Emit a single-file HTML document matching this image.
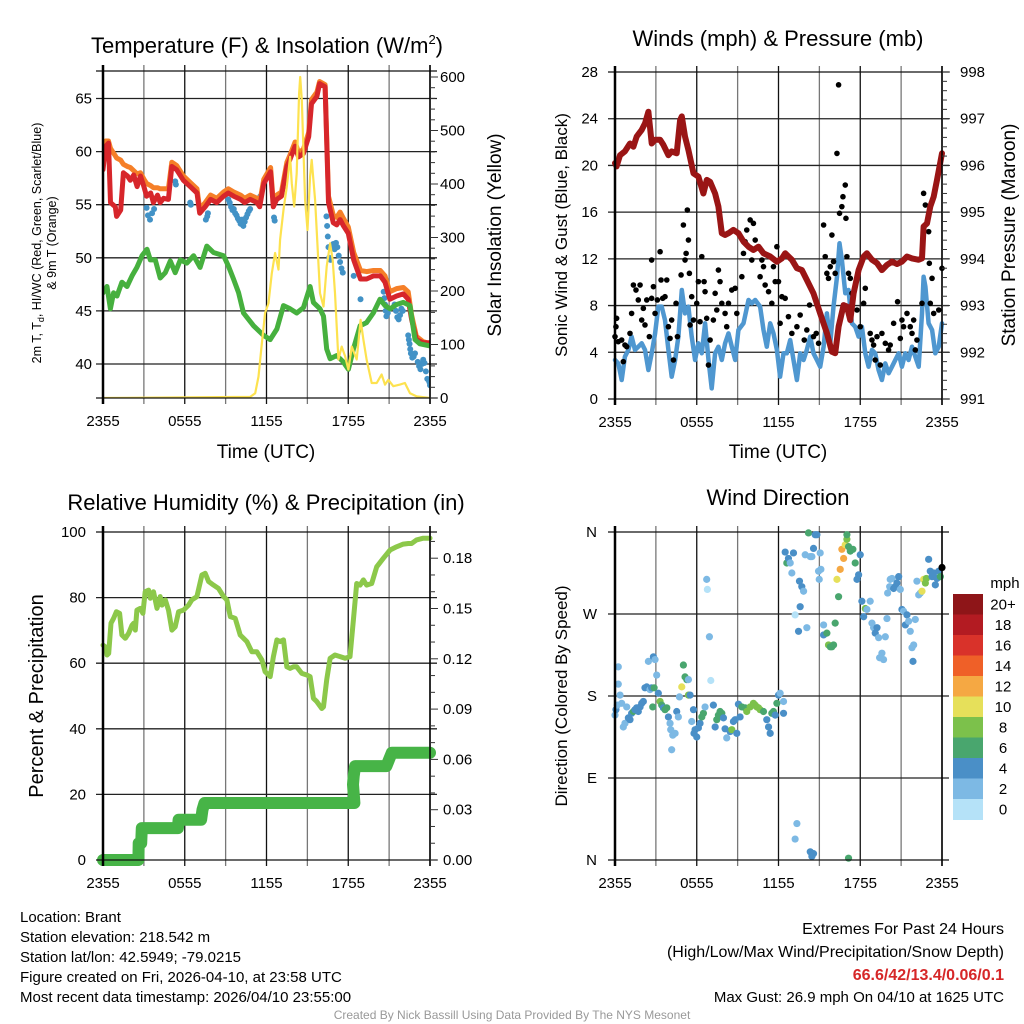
<!DOCTYPE html>
<html><head><meta charset="utf-8"><style>
html,body{margin:0;padding:0;background:#fff}
svg{display:block;font-family:"Liberation Sans",Arial,sans-serif}
</style></head><body>
<svg id="c" xmlns="http://www.w3.org/2000/svg" width="1024" height="1024" viewBox="0 0 1024 1024">
<rect width="1024" height="1024" fill="#fff"/>
<g id="layer-grid"></g>
<g id="layer-data"></g>
<g id="layer-axes"></g>
<text x="267" y="53" font-size="22" text-anchor="middle">Temperature (F) &amp; Insolation (W/m<tspan font-size="13" dy="-9">2</tspan><tspan dy="9">)</tspan></text>
<text x="778" y="46" font-size="22" text-anchor="middle">Winds (mph) &amp; Pressure (mb)</text>
<text x="266" y="510" font-size="22" text-anchor="middle">Relative Humidity (%) &amp; Precipitation (in)</text>
<text x="778" y="505" font-size="22" text-anchor="middle">Wind Direction</text>
<text x="266" y="458" font-size="19" text-anchor="middle">Time (UTC)</text>
<text x="778" y="458" font-size="19" text-anchor="middle">Time (UTC)</text>
<text transform="translate(41,243) rotate(-90)" font-size="12.5" text-anchor="middle">2m T, T<tspan font-size="9" dy="3">d</tspan><tspan dy="-3">, HI/WC (Red, Green, Scarlet/Blue)</tspan></text>
<text transform="translate(56,243) rotate(-90)" font-size="12.5" text-anchor="middle">&amp; 9m T (Orange)</text>
<text transform="translate(501,235) rotate(-90)" font-size="19" text-anchor="middle">Solar Insolation (Yellow)</text>
<text transform="translate(567,235) rotate(-90)" font-size="17" text-anchor="middle">Sonic Wind &amp; Gust (Blue, Black)</text>
<text transform="translate(1015,235) rotate(-90)" font-size="19" text-anchor="middle">Station Pressure (Maroon)</text>
<text transform="translate(43,696) rotate(-90)" font-size="20" text-anchor="middle">Percent &amp; Precipitation</text>
<text transform="translate(567,696) rotate(-90)" font-size="17" text-anchor="middle">Direction (Colored By Speed)</text>
<text x="20" y="922" font-size="15">Location: Brant</text>
<text x="20" y="942" font-size="15">Station elevation: 218.542 m</text>
<text x="20" y="962" font-size="15">Station lat/lon: 42.5949; -79.0215</text>
<text x="20" y="982" font-size="15">Figure created on Fri, 2026-04-10, at 23:58 UTC</text>
<text x="20" y="1002" font-size="15">Most recent data timestamp: 2026/04/10 23:55:00</text>
<text x="1004" y="934" font-size="16" text-anchor="end">Extremes For Past 24 Hours</text>
<text x="1004" y="957" font-size="16" text-anchor="end">(High/Low/Max Wind/Precipitation/Snow Depth)</text>
<text x="1004" y="980" font-size="16" font-weight="bold" fill="#d62728" text-anchor="end">66.6/42/13.4/0.06/0.1</text>
<text x="1004" y="1002" font-size="15" text-anchor="end">Max Gust: 26.9 mph On 04/10 at 1625 UTC</text>
<text x="512" y="1019" font-size="12" fill="#999" text-anchor="middle">Created By Nick Bassill Using Data Provided By The NYS Mesonet</text>
</svg>
<script>
// ---------- Panel 1: temperature ----------
const tempT=[0,0.2,0.4,0.55,0.9,1.0,1.3,1.5,1.8,2.0,2.25,2.5,2.75,3.0,3.2,3.5,3.7,4.0,4.2,4.45,4.8,5.05,5.4,5.9,6.4,6.9,7.1,7.5,7.9,8.35,8.85,9.2,9.6,10.1,10.4,10.8,11.3,11.5,11.8,12.3,12.5,12.75,13.1,13.5,13.7,14.1,14.35,14.7,15.1,15.3,15.7,15.9,16.3,16.55,16.9,17.15,17.4,17.65,18.0,18.4,18.9,19.35,19.85,20.35,20.7,21.05,21.55,22.05,22.4,22.65,23.0,23.5,24];
const tempV=[58.3,60.5,60.8,55.2,54.8,53.9,54.5,58.0,57.7,57.3,57.8,56.7,57.7,56.7,55.8,56.1,55.2,55.9,55.2,55.6,55.5,58.6,58.3,57.3,56.7,56.1,54.2,54.8,55.5,55.2,55.8,56.1,55.8,55.5,55.2,55.5,55.2,54.8,57.0,58.1,54.8,55.5,55.8,58.6,59.2,60.5,59.5,59.8,61.4,64.5,65.2,66.4,66.1,55.2,53.3,53.1,53.6,53.0,52.3,49.8,48.0,48.0,48.3,48.3,47.7,46.1,46.4,46.6,46.1,44.2,42.3,42.0,42.0];
const t9T=tempT;
const t9V=[60.3,61.0,61.0,60.3,59.6,59.4,59.2,58.8,58.6,58.5,58.2,57.9,58.0,57.4,57.0,56.8,56.6,56.6,56.5,56.5,56.5,59.0,58.7,57.7,57.1,56.5,54.6,55.2,55.9,55.6,56.2,56.5,56.2,55.9,55.6,55.9,55.6,55.2,57.4,58.5,55.2,55.9,56.2,59.0,59.6,60.9,59.9,60.2,61.8,64.9,65.6,66.6,66.3,55.8,54.0,53.8,54.3,53.7,52.9,50.5,48.8,48.7,48.8,48.8,48.3,46.8,47.1,47.2,46.8,44.6,42.6,42.1,41.9];
const hiT=[3.2,3.3,3.45,3.6,3.75,5.3,5.35,6.4,6.45,7.55,7.65,7.7,9.2,9.3,9.4,9.5,9.6,9.7,9.8,9.9,10.0,10.1,10.2,10.3,10.4,10.5,10.6,10.7,10.8,11.5,11.55,12.55,12.6,16.4,16.45,16.5,16.55,16.6,16.7,16.8,16.9,17.0,17.1,17.2,17.3,17.4,17.5,17.6,18.4,18.9,20.6,20.65,20.7,20.75,20.8,20.9,21.0,21.4,21.5,21.6,21.7,21.8,21.9,22.0,22.4,22.45,22.5,22.55,22.6,22.7,22.8,22.9,23.1,23.2,23.3,23.4,23.5,23.6,23.7,23.8,23.9,23.95,24];
const hiV=[54.7,54.0,53.6,54.2,54.6,57.2,56.9,55.2,55.0,53.6,53.9,54.2,55.5,55.2,54.8,54.5,54.6,54.2,54.0,53.7,53.5,53.2,53.6,53.0,53.4,53.8,54.1,54.4,54.6,55.4,55.8,53.8,53.5,53.9,53.0,52.0,51.0,50.0,49.8,51.0,51.3,50.8,51.4,51.0,50.2,49.6,49.0,48.6,48.3,46.1,46.8,46.2,45.6,45.0,44.5,44.8,45.2,45.6,45.0,44.4,44.2,44.6,45.2,45.0,42.7,42.3,41.9,41.4,41.0,40.6,40.7,41.0,40.2,39.8,39.5,40.0,40.4,40.1,39.3,38.6,38.5,38.3,38.0];
const dewT=[0,0.29,0.54,0.78,1.03,1.39,1.76,2.13,2.49,2.86,3.23,3.47,3.84,4.2,4.57,4.94,5.3,5.67,6.16,6.65,7.13,7.62,8.11,8.85,9.21,9.58,9.95,10.31,11.05,11.78,12.27,12.76,13.25,13.73,14.22,14.71,15.2,15.44,15.93,16.18,16.42,16.67,17.16,17.64,18.01,18.38,18.87,19.35,19.84,20.33,20.7,21.07,21.55,22.04,22.53,22.9,23.26,24];
const dewV=[46.7,47.3,45.2,46.7,46.4,47.7,47.3,48.3,49.1,50.2,50.8,49.8,49.8,48.1,48.6,49.7,48.6,49.8,49.5,50.2,49.1,51.1,50.5,50.2,49.2,48.0,46.7,44.8,43.6,42.7,42.3,43.3,45.5,45.2,44.8,45.3,47.3,45.8,45.2,44.5,41.4,40.5,40.8,40.2,39.5,41.4,43.6,43.9,44.8,46.1,45.5,45.2,45.6,45.8,45.5,42.3,41.9,41.7];
const solT=[0,10.80,11.17,11.41,11.66,11.90,12.15,12.39,12.63,12.88,13.0,13.25,13.49,13.73,13.86,14.03,14.22,14.39,14.47,14.59,14.83,15.01,15.2,15.32,15.57,15.93,16.18,16.42,16.67,16.86,17.03,17.28,17.52,17.77,18.01,18.26,18.62,18.91,19.11,19.35,19.72,20.09,20.45,20.70,20.94,21.31,21.8,22.16,22.53,23.02,24];
const solV=[0,2,9,40,103,159,177,233,271,240,296,352,395,451,401,358,420,569,600,557,370,314,414,445,370,196,171,246,289,258,196,72,96,78,53,96,72,146,109,72,28,28,44,25,34,22,25,28,9,3,0];
const tempTicks=[40,45,50,55,60,65];
const solTicks=[0,100,200,300,400,500,600];
const timeLabels=['2355','0555','1155','1755','2355'];
// ---------- Panel 2: winds ----------
const presT=[0,.12,.37,.73,1.10,1.35,1.59,1.96,2.20,2.45,2.69,2.94,3.31,3.55,3.92,4.16,4.53,4.78,4.90,5.14,5.39,5.76,6.12,6.49,6.74,6.98,7.35,7.59,7.84,8.08,8.33,8.69,9.06,9.43,9.80,10.16,10.53,10.90,11.39,11.88,12.25,12.49,12.98,13.35,13.72,14.08,14.57,15.06,15.55,15.92,16.16,16.41,16.78,17.02,17.27,17.51,17.88,18.25,18.49,18.86,19.23,19.59,19.96,20.33,20.70,21.06,21.43,21.80,22.29,22.53,22.65,22.90,23.14,23.39,23.63,24];
const presV=[996.05,995.98,996.22,996.30,996.47,996.40,996.62,996.76,996.90,997.15,996.47,996.55,996.55,996.44,996.22,996.30,996.26,996.97,997.05,996.62,996.33,995.83,995.76,995.40,995.69,995.65,995.40,995.12,994.55,994.51,994.55,994.62,994.55,994.37,994.26,994.19,994.26,994.12,994.05,993.94,994.01,994.12,993.98,993.80,993.76,993.55,993.26,992.83,992.41,992.01,991.98,992.55,993.01,992.98,992.69,993.26,993.76,994.05,994.12,993.98,993.91,993.76,993.87,993.94,993.89,993.94,994.05,994.01,993.98,994.01,994.69,994.76,995.12,995.33,995.69,996.26];
const windT=[0,.24,.49,.73,.98,1.22,1.47,1.71,1.96,2.20,2.45,2.69,2.94,3.18,3.43,3.67,3.92,4.16,4.41,4.65,4.90,5.14,5.39,5.63,5.88,6.12,6.37,6.61,6.86,7.10,7.35,7.59,7.84,8.08,8.33,8.57,8.82,9.06,9.43,9.80,10.04,10.29,10.65,10.90,11.14,11.39,11.63,11.88,12.12,12.37,12.61,12.86,13.10,13.35,13.59,13.84,14.08,14.33,14.57,14.82,15.06,15.31,15.55,15.80,16.04,16.29,16.48,16.65,16.90,17.14,17.39,17.63,17.88,18.12,18.37,18.61,18.86,19.10,19.35,19.59,19.84,20.08,20.33,20.57,20.82,21.06,21.31,21.55,21.80,22.04,22.29,22.53,22.65,22.78,23.02,23.27,23.51,23.76,24];
const windV=[3.34,3.05,1.63,3.62,4.2,5.34,4.2,4.48,4.77,4.2,2.48,3.91,5.62,7.91,7.91,6.76,4.2,1.91,3.34,5.34,9.33,7.33,7.91,5.34,3.34,4.77,3.91,6.48,3.34,0.91,3.91,4.48,3.34,4.77,5.62,4.48,3.34,5.91,6.48,8.48,8.19,8.48,7.91,5.91,4.48,6.48,5.62,4.2,1.91,3.91,3.91,5.05,3.34,1.63,3.91,3.34,4.2,5.34,3.91,3.34,2.77,4.48,7.33,4.77,7.91,10.47,13.33,11.9,9.05,9.33,6.48,6.19,5.34,6.19,3.91,2.77,4.2,3.91,2.48,1.63,3.05,2.2,2.77,3.34,3.91,2.77,3.91,3.34,4.48,3.62,2.77,7.33,10.47,9.62,6.48,5.91,3.91,4.48,6.48];
const gustT=[0,.07,.12,.24,.49,.61,.73,.86,1.10,1.22,1.35,1.54,1.71,1.84,1.96,2.08,2.20,2.33,2.52,2.69,2.69,2.82,2.94,3.11,3.31,3.38,3.50,3.67,3.80,3.92,4.04,4.16,4.29,4.48,4.58,4.85,5.02,5.14,5.22,5.31,5.39,5.46,5.51,5.63,5.76,6.00,6.12,6.24,6.37,6.54,6.61,6.73,6.86,6.98,7.22,7.35,7.47,7.59,7.71,7.84,8.08,8.20,8.33,8.57,8.82,8.94,9.31,9.43,9.55,9.67,9.92,10.04,10.16,10.29,10.53,10.65,10.78,10.90,11.02,11.27,11.51,11.63,11.76,11.88,12.00,12.12,12.25,12.49,12.73,12.98,13.35,13.59,13.89,14.08,14.28,14.57,14.77,14.94,15.31,15.43,15.55,15.67,15.80,15.92,16.04,16.16,16.29,16.41,16.48,16.65,16.73,16.90,16.95,17.02,17.14,17.27,17.39,17.76,18.00,18.25,18.37,18.73,18.86,18.98,19.10,19.23,19.47,19.59,19.84,20.08,20.20,20.45,20.74,20.94,21.06,21.18,21.43,21.67,21.80,21.92,22.04,22.16,22.53,22.65,22.78,23.02,23.07,23.27,23.14,23.39,23.76,24.00];
const gustV=[5.34,6.19,6.91,4.91,5.05,3.20,4.62,4.48,5.62,7.33,9.76,9.33,8.48,9.76,6.76,7.76,6.34,8.48,5.34,11.90,8.62,9.62,7.33,8.48,12.61,10.19,8.62,8.76,10.19,6.19,5.19,6.76,3.34,8.19,5.34,10.62,14.90,11.90,12.47,16.18,13.61,10.76,6.34,8.76,6.76,8.19,10.05,6.62,12.19,10.05,9.19,6.91,2.91,5.05,6.76,9.05,7.62,11.04,10.05,8.19,7.33,6.19,8.19,9.33,9.48,7.33,10.47,12.47,13.47,14.47,15.33,11.90,15.04,13.61,13.04,10.47,11.90,11.33,9.76,9.19,8.19,11.33,10.05,13.04,10.05,6.48,8.76,8.62,7.05,5.62,6.19,7.19,5.05,5.91,8.05,5.34,5.62,4.77,14.90,12.19,10.76,10.33,11.33,14.04,11.76,10.76,21.03,26.9,15.90,16.47,17.32,18.32,15.47,12.19,10.76,10.33,9.05,7.62,6.19,8.19,9.48,5.62,5.05,4.62,3.34,5.34,2.91,5.62,4.77,4.20,4.62,6.48,8.33,5.19,6.76,6.19,7.33,6.19,5.62,6.76,4.20,5.05,8.19,17.61,16.61,14.33,11.62,10.33,8.19,7.33,7.62,11.19];
const windTicks=[0,4,8,12,16,20,24,28];
const presTicks=[991,992,993,994,995,996,997,998];
// ---------- Panel 3: humidity ----------
const rhT=[0,.17,.29,.42,.59,.78,.98,1.22,1.39,1.64,1.88,2.13,2.25,2.37,2.49,2.74,2.93,3.10,3.35,3.47,3.71,3.96,4.20,4.33,4.57,4.81,5.06,5.30,5.55,5.91,6.28,6.52,6.89,7.26,7.50,7.75,8.11,8.48,8.85,9.09,9.34,9.70,10.07,10.56,10.92,11.29,11.66,11.90,12.27,12.51,12.76,13.00,13.25,13.49,13.73,13.98,14.22,14.59,14.96,15.20,15.44,15.69,16.06,16.18,16.42,16.67,17.03,17.40,17.77,18.13,18.38,18.62,18.87,19.11,19.35,19.72,20.09,20.58,21.07,21.55,22.04,22.41,22.65,23.02,23.51,24];
const rhV=[65.5,65.0,62.5,63.0,72.2,73.7,75.7,75.2,68.6,67.6,69.1,71.6,72.2,70.1,76.2,76.7,75.2,81.8,82.3,79.8,81.8,76.7,80.3,77.7,79.3,76.2,70.1,71.1,75.7,76.2,77.7,79.3,80.3,86.9,87.4,84.9,83.8,82.8,80.3,79.3,74.2,73.7,68.6,66.6,63.5,63.5,61.0,57.4,55.9,62.0,67.1,66.6,67.1,58.9,58.4,58.9,58.9,56.9,56.4,55.9,49.3,48.3,46.2,46.7,54.9,61.5,62.5,62.0,61.5,62.0,73.2,84.3,83.8,85.4,83.8,84.3,89.4,92.0,94.5,95.5,96.3,96.5,96.5,97.6,98.1,98.1];
const prT=[0,2.6,2.62,2.8,2.85,5.5,5.55,7.2,7.3,7.45,18.45,18.35,18.4,18.5,20.8,21.0,21.2,24];
const prV=[0,0,0.01,0.01,0.019,0.019,0.024,0.024,0.03,0.034,0.034,0.045,0.05,0.056,0.056,0.06,0.064,0.064];
const rhTicks=[0,20,40,60,80,100];
const prTicks=[0,0.03,0.06,0.09,0.12,0.15,0.18];
// ---------- Panel 4: wind direction ----------
const dirT=[0,.07,.17,.24,.24,.37,.49,.61,.73,.86,.98,1.10,1.22,1.35,1.47,1.59,1.71,1.84,1.96,2.08,2.20,2.33,2.45,2.57,2.69,2.82,2.94,2.77,2.87,3.06,3.18,3.31,3.43,3.55,3.67,3.80,3.92,4.04,4.09,4.16,4.24,4.41,4.53,4.65,4.73,4.90,5.02,5.14,5.27,5.39,5.39,5.51,5.63,5.76,5.80,5.88,6.00,6.12,6.24,6.37,6.49,6.61,6.73,6.78,6.93,7.03,7.22,7.35,7.47,7.59,7.71,7.84,7.96,8.08,8.20,8.45,8.57,8.69,8.82,8.94,9.06,9.18,9.31,9.55,9.67,9.92,10.16,10.29,10.41,10.53,10.65,10.90,11.14,11.27,11.39,11.51,11.63,11.76,11.88,12.00,12.12,12.37,12.37,
12.49,12.61,12.73,12.86,12.98,13.10,13.22,13.35,13.22,13.47,13.59,13.54,13.71,13.84,13.96,14.08,14.20,14.33,14.45,14.57,14.69,14.82,14.94,14.99,15.06,15.11,14.33,14.45,14.57,15.31,15.31,15.55,15.67,15.80,15.92,16.04,16.16,16.29,16.41,16.53,16.65,16.78,16.90,17.02,17.02,17.14,17.27,17.46,17.63,17.76,17.88,18.00,17.14,18.12,18.25,18.37,18.49,18.73,18.86,18.98,19.10,19.23,19.35,19.42,19.59,19.71,19.84,19.96,20.01,20.16,20.20,20.33,20.45,20.57,20.69,20.82,20.94,21.06,21.18,21.31,21.43,21.55,21.67,21.80,21.92,21.87,22.04,22.16,22.29,22.41,22.53,22.65,22.78,22.85,23.02,23.14,23.27,23.39,23.51,23.63,23.76,23.88,24.00];
const dirV=[159,165,170,212,193,181,172,146,150,168,156,154,161,163,165,167,163,168,172,174,189,190,218,187,189,223,220,168,189,203,183,174,170,167,165,167,157,150,143,121,137,139,163,157,179,190,214,201,198,198,181,181,152,165,139,143,135,145,150,157,161,168,308,297,245,197,170,146,154,159,163,161,156,144,134,141,143,152,154,139,171,157,168,167,163,168,172,170,168,167,165,163,154,146,139,161,163,159,172,181,183,174,161,
338,326,331,326,315,337,269,40,23,251,278,306,300,295,335,255,359,333,333,342,357,357,317,308,337,319,9,4,7,258,247,249,236,234,234,236,260,308,289,319,341,331,346,352,357,344,339,341,326,308,313,335,2,284,267,276,275,284,260,255,249,255,244,222,227,220,245,265,293,300,308,309,298,300,304,311,297,275,273,258,269,262,251,233,236,218,264,306,291,293,295,308,304,309,330,317,311,315,302,309,317,311,321];
const dirS=[3,5,3,3,3,3,3,3,3,3,5,5,5,7,5,5,5,5,5,5,5,5,3,3,5,5,3,7,7,3,5,9,7,5,7,7,5,3,3,3,3,3,5,3,3,11,7,7,7,3,9,5,3,5,5,5,5,5,5,7,7,3,3,1,3,1,5,5,7,7,7,7,5,5,3,5,9,5,5,5,5,5,7,7,9,9,9,9,9,9,9,7,5,5,5,7,7,5,7,5,3,3,5,
5,7,5,3,3,5,1,3,3,5,5,5,5,3,3,3,7,3,3,5,5,5,3,3,3,3,5,5,5,3,5,7,9,7,7,7,7,11,7,13,13,13,11,9,7,7,7,7,7,5,5,5,7,5,5,9,3,3,3,3,5,5,3,3,3,3,3,3,3,3,3,3,5,5,5,5,3,5,3,5,5,3,3,3,3,5,3,3,3,3,11,11,9,9,5,5,5,5,5,5,5,7];
const dirLabels=['N','E','S','W','N'];
const dirTicks=[0,90,180,270,360];
const speedBins=['0','2','4','6','8','10','12','14','16','18','20+'];
const speedColors=['#b5e2f8','#7db9e4','#4a8fc7','#49a66e','#7cc14b','#e6e05a','#f5a843','#ef6028','#d9322a','#b31b22','#8e1518'];

const NS='http://www.w3.org/2000/svg';
const gGrid=document.getElementById('layer-grid');
const gData=document.getElementById('layer-data');
const gAx=document.getElementById('layer-axes');
function mk(tag,attrs,parent){const e=document.createElementNS(NS,tag);for(const k in attrs)e.setAttribute(k,attrs[k]);parent.appendChild(e);return e;}
function txt(x,y,s,size,anchor,parent){const e=mk('text',{x:x,y:y,'font-size':size,'text-anchor':anchor},parent);e.textContent=s;return e;}

const P1={x0:103,x1:430,y0:71,y1:398}, P2={x0:615,x1:942,y0:72,y1:399}, P3={x0:103,x1:430,y0:532,y1:860}, P4={x0:615,x1:942,y0:532,y1:860};
const xs=(P,t)=>P.x0+t/24*(P.x1-P.x0);
const yTemp=v=>364-(v-40)*10.62;
const ySol=s=>398-s*0.535;
const yWind=w=>399-w*(327/28);
const yPres=p=>399-(p-991)*(327/7);
const yRH=r=>860-r*3.28;
const yPr=p=>860-p*(50.3/0.03);
const yDir=d=>860-d*(328/360);

function frame(P,name,hvals,yf){
  for(let i=0;i<=8;i++){const x=P.x0+i*(P.x1-P.x0)/8;
    const l=mk('line',{x1:x,x2:x,y1:P.y0-6,y2:P.y1+6,stroke:i%2?'#777':'#111','stroke-width':1.3},gGrid);
    
    }
  hvals.forEach(v=>{const y=yf(v);
    const l=mk('line',{x1:P.x0-7,x2:P.x1+7,y1:y,y2:y,stroke:'#222','stroke-width':1.3},gGrid);
    
    });
  const b=mk('line',{x1:P.x0-7,x2:P.x1+7,y1:P.y0,y2:P.y0,stroke:'#111','stroke-width':1.3},gGrid);
  
  
  const bb=mk('line',{x1:P.x0-7,x2:P.x1+7,y1:P.y1,y2:P.y1,stroke:'#111','stroke-width':1.3},gAx);
  
  
  const la=mk('line',{x1:P.x0,x2:P.x0,y1:P.y0-6,y2:P.y1+6,stroke:'#000','stroke-width':2.5},gAx);
  
  
  const ra=mk('line',{x1:P.x1,x2:P.x1,y1:P.y0-6,y2:P.y1+6,stroke:'#000','stroke-width':1.5},gAx);
  
  
}
function xlabels(P,name){timeLabels.forEach((s,i)=>{const e=txt(P.x0+i*(P.x1-P.x0)/4,P.y1+28,s,15,'middle',gAx);
  
  });}
function leftLabels(vals,yf,x,name,fmt){vals.forEach(v=>{const e=txt(x,yf(v)+5,fmt?fmt(v):String(v),15,'end',gAx);
  
  });}
function rightLabels(vals,yf,x,name,fmt){vals.forEach(v=>{const e=txt(x,yf(v)+5,fmt?fmt(v):String(v),15,'start',gAx);
  
  });}
function rightMinor(P,lo,hi,step,yf,major){for(let v=lo;v<=hi+1e-9;v+=step){const y=yf(v);if(y<P.y0-1)continue;
  const isMaj=Math.abs(Math.round(v/major)*major-v)<1e-6;
  mk('line',{x1:P.x1,x2:P.x1+(isMaj?8:5),y1:y,y2:y,stroke:'#333','stroke-width':1},gAx);}}
function path(T,V,P,yf,color,w,name,parent){let d='';T.forEach((t,i)=>{d+=(i?'L':'M')+xs(P,t).toFixed(1)+','+yf(V[i]).toFixed(1);});
  const e=mk('path',{d:d,fill:'none',stroke:color,'stroke-width':w,'stroke-linejoin':'round','stroke-linecap':'round'},parent||gData);
  
  
  return e;}

// Panel 1
frame(P1,'temp-panel',tempTicks,yTemp);
rightMinor(P1,0,600,20,ySol,100);
xlabels(P1,'temp');
leftLabels(tempTicks,yTemp,92,'temp');
rightLabels(solTicks,ySol,440,'solar');
const c1=mk('clipPath',{id:'clip1'},gData);mk('rect',{x:P1.x0,y:P1.y0-3,width:P1.x1-P1.x0,height:P1.y1-P1.y0+3},c1);
const g1=mk('g',{'clip-path':'url(#clip1)'},gData);
hiT.forEach((t,i)=>{const c=mk('circle',{cx:xs(P1,t),cy:yTemp(hiV[i]),r:3,fill:'#4292c6'},g1);
  
  });
path(t9T,t9V,P1,yTemp,'#f57f28',5,'temp-9m-line',g1);
path(tempT,tempV,P1,yTemp,'#d7262b',5,'temp-2m-line',g1);
path(dewT,dewV,P1,yTemp,'#46b03e',5,'dewpoint-line',g1);
path(solT,solV,P1,ySol,'#fde24f',2.2,'solar-insolation-line',g1);

// Panel 2
frame(P2,'wind-panel',windTicks.slice(1,7),yWind);
rightMinor(P2,991,998,0.2,yPres,1);
xlabels(P2,'wind');
leftLabels(windTicks,yWind,598,'wind');
rightLabels(presTicks,yPres,960,'pressure');
path(windT,windV,P2,yWind,'#4f97d0',4.5,'sonic-wind-line');
gustT.forEach((t,i)=>{const c=mk('circle',{cx:xs(P2,t),cy:yWind(gustV[i]),r:2.8,fill:'#000'},gData);
  
  });
path(presT,presV,P2,yPres,'#9a1515',6,'pressure-line');

// Panel 3
frame(P3,'humidity-panel',rhTicks.slice(1,5),yRH);
rightMinor(P3,0,0.195,0.01,yPr,0.03);
xlabels(P3,'humidity');
leftLabels(rhTicks,yRH,86,'humidity');
rightLabels(prTicks,yPr,443,'precip',v=>v.toFixed(2));
path(rhT,rhV,P3,yRH,'#8cc84a',5,'relative-humidity-line');
path(prT,prV,P3,yPr,'#47b447',12,'precipitation-line');

// Panel 4
frame(P4,'direction-panel',[90,180,270],yDir);
xlabels(P4,'direction');
dirTicks.forEach((d,i)=>{const e=txt(597,yDir(d)+5,dirLabels[i],15,'end',gAx);
  
  });
dirT.forEach((t,i)=>{const bin=Math.min(10,Math.floor(dirS[i]/2));
  const c=mk('circle',{cx:xs(P4,t),cy:yDir(dirV[i]),r:3.6,fill:speedColors[bin]},gData);
  
  });
const cbTop=594,cbH=20.5;
const ml=txt(1005,588,'mph',15,'middle',gAx);


speedBins.forEach((s,i)=>{const k=10-i;const y=cbTop+i*cbH;
  const r=mk('rect',{x:953,y:y,width:30,height:cbH+0.5,fill:speedColors[k]},gAx);
  
  
  const t=txt(1003,y+cbH/2+5,speedBins[k],15,'middle',gAx);
  
  });
</script>
</body></html>
